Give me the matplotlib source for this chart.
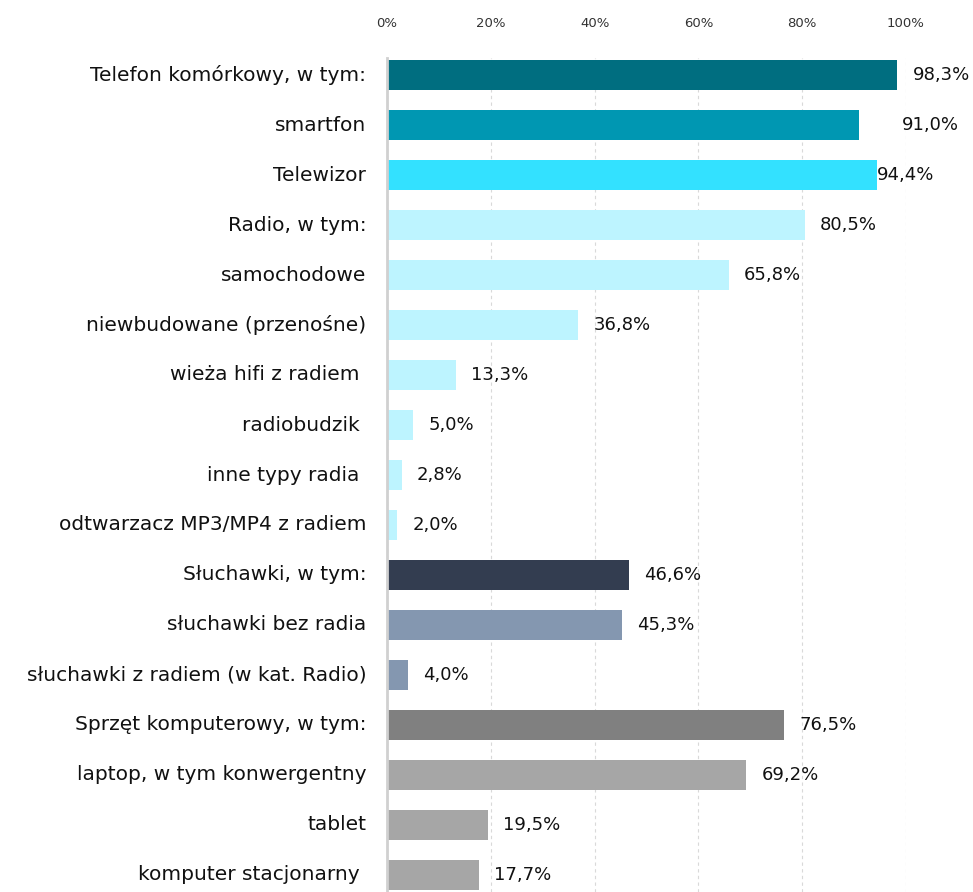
import numpy as np
import matplotlib
matplotlib.use('Agg')
import matplotlib.pyplot as plt

plt.rcParams['font.family'] = ['DejaVu Sans']

categories = ['Telefon komórkowy, w tym:', 'smartfon', 'Telewizor', 'Radio, w tym:',
              'samochodowe', 'niewbudowane (przenośne)', 'wieża hifi z radiem ',
              'radiobudzik ', 'inne typy radia ', 'odtwarzacz MP3/MP4 z radiem',
              'Słuchawki, w tym:', 'słuchawki bez radia', 'słuchawki z radiem (w kat. Radio)',
              'Sprzęt komputerowy, w tym:', 'laptop, w tym konwergentny', 'tablet',
              'komputer stacjonarny ']
values = [98.3, 91.0, 94.4, 80.5, 65.8, 36.8, 13.3, 5.0, 2.8, 2.0,
          46.6, 45.3, 4.0, 76.5, 69.2, 19.5, 17.7]
colors = ['#006e80', '#0097b2', '#33e1ff', '#bdf4ff', '#bdf4ff', '#bdf4ff', '#bdf4ff',
          '#bdf4ff', '#bdf4ff', '#bdf4ff', '#333d50', '#8497b0', '#8497b0',
          '#808080', '#a6a6a6', '#a6a6a6', '#a6a6a6']
ticks = [0, 20, 40, 60, 80, 100]

# label nudges (points) where the original labels sit oddly
nudge = {1: 20, 2: -11}

fig = plt.figure(figsize=(9.73, 8.92), dpi=100)
W, H = 973, 892
left, right, top, bottom = 387, 906, 57.5, 892
ax = fig.add_axes([left / W, 1 - bottom / H, (right - left) / W, (bottom - top) / H])

y = np.arange(len(values))
ax.barh(y, values, height=0.6, color=colors, zorder=2)
ax.set_xlim(0, 100)
ax.set_ylim((bottom - 75) / 50, -(75 - top) / 50)

ax.set_yticks(y)
ax.set_yticklabels(categories, fontsize=14.5, color='#111111', va='center')
ax.tick_params(axis='y', length=0, pad=15)
ax.xaxis.tick_top()
ax.set_xticks(ticks)
ax.set_xticklabels([f'{t}%' for t in ticks], fontsize=9.5, color='#333333')
ax.tick_params(axis='x', length=0, pad=20)

ax.grid(axis='x', linestyle=(0, (3, 3)), color='#d9d9d9', linewidth=0.8, zorder=0)
for s in ['top', 'right', 'bottom']:
    ax.spines[s].set_visible(False)
ax.spines['left'].set_color('#d0d0d0')
ax.spines['left'].set_linewidth(2)
ax.spines['left'].set_zorder(3)

for i, v in enumerate(values):
    ax.annotate(f'{v:.1f}%'.replace('.', ','), (v, i), xytext=(11 + nudge.get(i, 0), 0),
                textcoords='offset points', va='center', ha='left', fontsize=13,
                color='#111111', annotation_clip=False)

fig.savefig('out.png', dpi=100)
